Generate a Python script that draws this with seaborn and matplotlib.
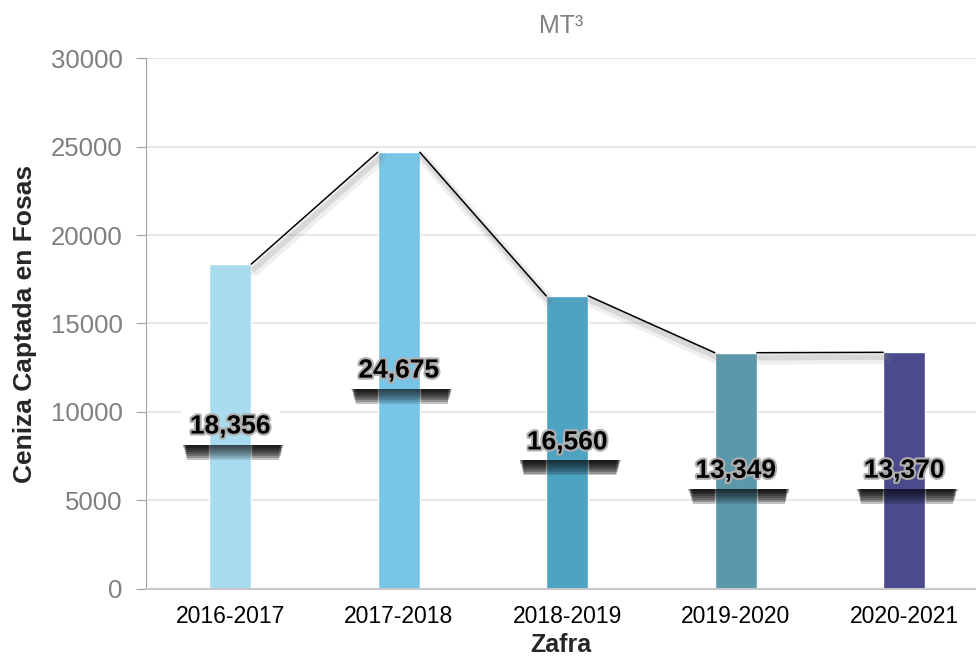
import matplotlib
matplotlib.use("Agg")
import matplotlib.pyplot as plt
import matplotlib.patheffects as pe
from matplotlib.patches import Rectangle
from matplotlib.transforms import IdentityTransform
import seaborn as sns

# data
zafra = ["2016-2017", "2017-2018", "2018-2019", "2019-2020", "2020-2021"]
ceniza = [18356, 24675, 16560, 13349, 13370]
bar_colors = ["#AADCF0", "#77C6E7", "#4EA3C3", "#5C98AC", "#4A4A8C"]

sns.set_style("white")
plt.rcParams["font.family"] = ["Liberation Sans", "DejaVu Sans"]

fig = plt.figure(figsize=(9.76, 6.67), dpi=100)
ax = fig.add_axes([0.1496, 0.117, 0.8504, 0.796])

bar_w = 0.25
sns.barplot(x=zafra, y=ceniza, hue=zafra, palette=bar_colors, width=bar_w,
            legend=False, saturation=1, ax=ax, zorder=2)
bars = list(ax.patches)

# connecting line: right top corner of a bar to left top corner of the next
for i in range(len(ceniza) - 1):
    ax.plot([i + bar_w / 2, i + 1 - bar_w / 2], [ceniza[i], ceniza[i + 1]],
            color="black", lw=1.1, zorder=3,
            path_effects=[pe.SimpleLineShadow(offset=(2.5, -4.5), shadow_color="gray",
                                              alpha=0.12, linewidth=8),
                          pe.SimpleLineShadow(offset=(2, -3.5), shadow_color="gray",
                                              alpha=0.2, linewidth=4),
                          pe.Normal()])

ax.set_ylim(0, 30000)
ax.set_yticks(range(0, 30001, 5000))
ax.set_xlim(-0.5, 4.426)
ax.yaxis.grid(True, color="#e6e6e6", lw=1.3, zorder=0)
ax.set_axisbelow(True)

for s in ["top", "right"]:
    ax.spines[s].set_visible(False)
ax.spines["left"].set_color("#a0a0a0")
ax.spines["bottom"].set_color("#c8c8c8")
ax.spines["bottom"].set_linewidth(1.5)

ax.tick_params(axis="y", which="major", left=True, length=7, color="#a0a0a0",
               labelsize=18.5, labelcolor="#7f7f7f", pad=10)
ax.tick_params(axis="x", bottom=False, labelsize=16.5, labelcolor="black", pad=8)

ax.set_title("MT³", fontsize=18, color="#808080", pad=18)
ax.set_xlabel("Zafra", fontsize=18, fontweight="bold", labelpad=4)
ax.set_ylabel("Ceniza Captada en Fosas", fontsize=19, fontweight="bold", labelpad=10)

# value labels in middle of bars
labels = []
for i, v in enumerate(ceniza):
    t = ax.text(i, v / 2, f"{v:,}", ha="center", va="center", fontsize=19,
                fontweight="bold", color="black", zorder=6,
                path_effects=[pe.withStroke(linewidth=3, foreground="#b0b0b0")])
    labels.append(t)

# white label boxes with a soft shadow underneath
fig.canvas.draw()
r = fig.canvas.get_renderer()
px, py = 9, 7
sh_dx, sh_dy = 4, 15
n_layers = 8
for bar, t in zip(bars, labels):
    bb = t.get_window_extent(r)
    x0, y0 = bb.x0 - px, bb.y0 - py + 1
    w, h = bb.width + 2 * px, bb.height + 2 * py - 3
    ax.add_patch(Rectangle((x0, y0), w, h, transform=IdentityTransform(),
                           fc="white", ec="none", zorder=1.6, clip_on=False))
    # shadow: stacked strips, darkest next to the box, narrowing as it fades
    for k in range(n_layers):
        d = sh_dy * (k + 1) / n_layers
        inset = 0.6 * k
        for z, clip in [(1.5, None), (2.5, bar)]:
            p = Rectangle((x0 + sh_dx + inset - 2, y0 - d), w + 2 - 2 * inset, d,
                          transform=IdentityTransform(),
                          fc="black", ec="none", alpha=0.13, zorder=z, clip_on=False)
            ax.add_patch(p)
            if clip is not None:
                p.set_clip_path(clip)

fig.savefig("out.png", dpi=100)
